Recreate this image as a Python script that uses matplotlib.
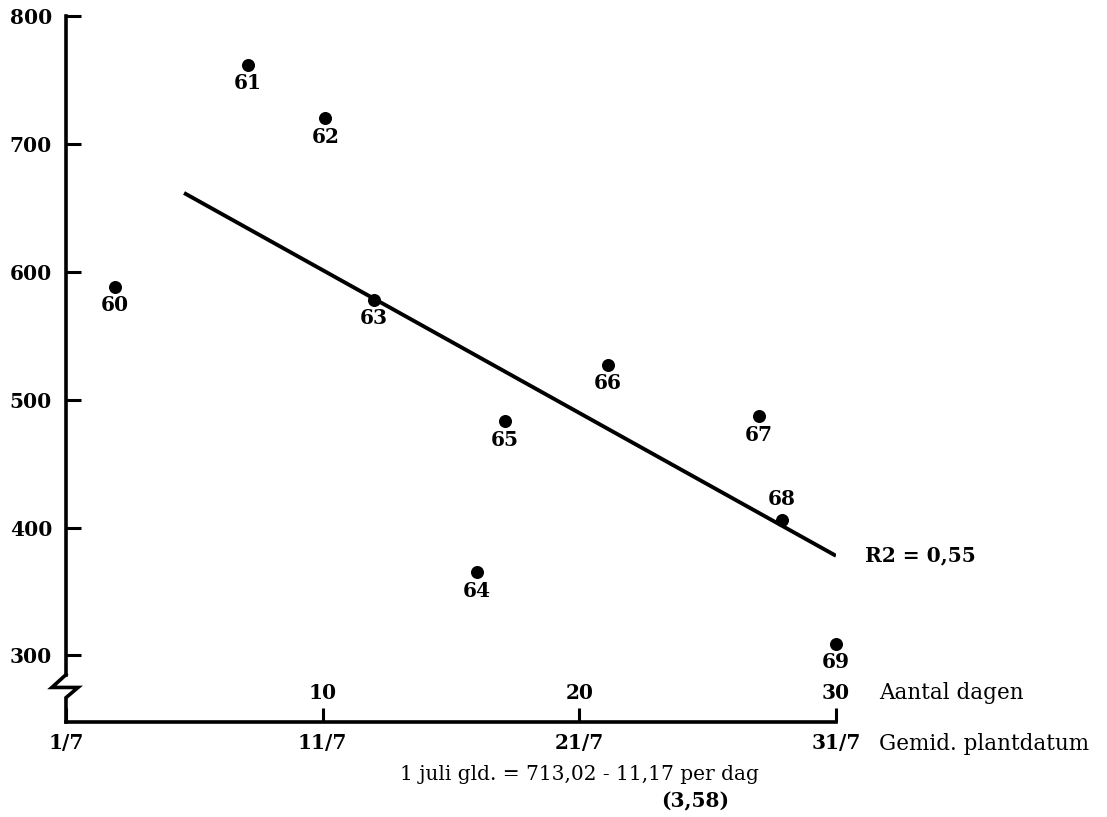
import matplotlib
matplotlib.use('Agg')
import matplotlib.pyplot as plt
import matplotlib.transforms as mtransforms

# jaar (19xx), gemiddelde plantdatum (dagen na 1 juli) en opbrengst
years = ['60', '61', '62', '63', '64', '65', '66', '67', '68', '69']
days = [1.9, 7.1, 10.1, 12.0, 16.0, 17.1, 21.1, 27.0, 27.9, 30.0]
values = [588, 762, 720, 578, 365, 483, 527, 487, 406, 309]

intercept = 713.02
slope = -11.17
fit_days = [4.6, 30.0]

day_ticks = [10, 20, 30]
date_ticks = [0, 10, 20, 30]
date_labels = ['1/7', '11/7', '21/7', '31/7']
y_ticks = [300, 400, 500, 600, 700, 800]

plt.rcParams['font.family'] = ['DejaVu Serif']
NUM = 14.5
WORD = 14.5

fig = plt.figure(figsize=(11.07, 8.17), dpi=100)
ax = fig.add_axes([0.0596, 0.1163, 0.6956, 0.8641])
ax.set_xlim(0, 30)
ax.set_ylim(248, 800)

# regressielijn
fit_vals = [intercept + slope * d for d in fit_days]
ax.plot(fit_days, fit_vals, color='black', lw=2.8, solid_capstyle='butt', zorder=2)

ax.scatter(days, values, s=70, color='black', zorder=3, clip_on=False)
for yr, d, v in zip(years, days, values):
    if yr == '68':
        ax.annotate(yr, (d, v), xytext=(0, 8), textcoords='offset points',
                    ha='center', va='bottom', fontsize=NUM, fontweight='bold')
    else:
        ax.annotate(yr, (d, v), xytext=(0, -6), textcoords='offset points',
                    ha='center', va='top', fontsize=NUM, fontweight='bold')

# assen
for s in ['top', 'right']:
    ax.spines[s].set_visible(False)
ax.spines['left'].set_linewidth(2.6)
ax.spines['bottom'].set_linewidth(2.6)
ax.spines['left'].set_bounds(285, 800)
ax.spines['bottom'].set_bounds(0, 30)
ax.plot([0, -0.55, 0.47, 0, 0], [285, 275, 275, 267, 248], color='black',
        lw=2.6, clip_on=False, solid_joinstyle='miter', zorder=4)

ax.set_yticks(y_ticks)
ax.set_yticklabels([str(t) for t in y_ticks], fontsize=NUM, fontweight='bold')
ax.tick_params(axis='y', direction='in', length=11, width=2.2, pad=10)

ax.set_xticks(date_ticks)
ax.set_xticklabels(date_labels, fontsize=NUM, fontweight='bold')
ax.tick_params(axis='x', direction='in', length=10, width=2.2, pad=8)

trans = mtransforms.blended_transform_factory(ax.transData, ax.transAxes)
for t in day_ticks:
    ax.annotate(str(t), (t, 0), xycoords=trans, xytext=(0, 21), textcoords='offset points',
                ha='center', va='center', fontsize=NUM, fontweight='bold')
ax.annotate('Aantal dagen', (30, 0), xycoords=trans, xytext=(31, 21),
            textcoords='offset points', ha='left', va='center', fontsize=15.5)
ax.annotate('Gemid. plantdatum', (30, 0), xycoords=trans, xytext=(31, -16),
            textcoords='offset points', ha='left', va='center', fontsize=15.5)
ax.annotate('1 juli gld. = 713,02 - 11,17 per dag', (20, 0), xycoords=trans,
            xytext=(0, -38), textcoords='offset points', ha='center', va='center',
            fontsize=WORD)
ax.annotate('(3,58)', (24.5, 0), xycoords=trans, xytext=(0, -57),
            textcoords='offset points', ha='center', va='center', fontsize=NUM,
            fontweight='bold')

ax.annotate('R2 = 0,55', (fit_days[1], fit_vals[1]), xytext=(21, 0),
            textcoords='offset points', ha='left', va='center', fontsize=NUM,
            fontweight='bold')

fig.savefig('out.png', dpi=100)
